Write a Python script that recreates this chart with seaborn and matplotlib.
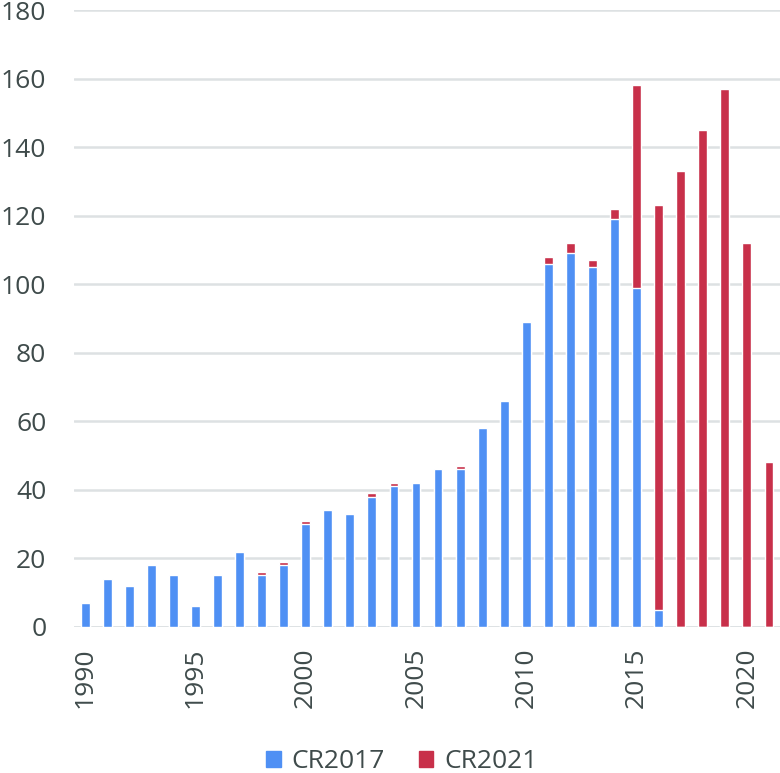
import numpy as np
import pandas as pd
import matplotlib.pyplot as plt
import seaborn as sns
from matplotlib.patches import Patch

# Data
years = list(range(1990, 2022))
cr2017 = [7, 14, 12, 18, 15, 6, 15, 22, 15, 18,
          30, 34, 33, 38, 41, 42, 46, 46, 58, 66,
          89, 106, 109, 105, 119, 99, 5, 0, 0, 0,
          0, 0]
cr2021_added = [0, 0, 0, 0, 0, 0, 0, 0, 1, 1,
                1, 0, 0, 1, 1, 0, 0, 1, 0, 0,
                0, 2, 3, 2, 3, 59, 118, 133, 145, 157,
                112, 48]

BLUE = '#4F90F4'
RED = '#C8304A'
TEXT = '#3F4B4B'
GRID = '#DDE1E3'

df = pd.DataFrame({'year': years, 'CR2017': cr2017, 'CR2021': cr2021_added})
df['total'] = df['CR2017'] + df['CR2021']

sns.set_style('white')
plt.rcParams['font.family'] = ['Open Sans', 'DejaVu Sans']

fig = plt.figure(figsize=(7.8, 7.73), dpi=100)
ax = fig.add_axes([0.095, 0.189, 0.905, 0.798])

# stacked: total in red, CR2017 share in blue on top of it
sns.barplot(data=df, x='year', y='total', color=RED, width=0.4,
            saturation=1, ax=ax, zorder=3)
sns.barplot(data=df, x='year', y='CR2017', color=BLUE, width=0.4,
            saturation=1, ax=ax, zorder=4)

ax.set_ylim(0, 180)
ax.set_xlim(-0.5, len(years) - 0.5)
ax.set_yticks(range(0, 181, 20))
ax.yaxis.grid(True, color=GRID, linewidth=1.8, zorder=0)
ax.set_axisbelow(True)

tick_pos = [i for i, y in enumerate(years) if y % 5 == 0]
ax.set_xticks(tick_pos)
ax.set_xticklabels([str(years[i]) for i in tick_pos], rotation=90)

for s in ax.spines.values():
    s.set_visible(False)
ax.axhline(0, color=GRID, linewidth=1.8, zorder=2)

ax.tick_params(axis='both', length=0, labelsize=19, labelcolor=TEXT)
ax.tick_params(axis='y', pad=20)
ax.tick_params(axis='x', pad=15)
ax.set_xlabel('')
ax.set_ylabel('')

handles = [Patch(color=BLUE, label='CR2017'), Patch(color=RED, label='CR2021')]
fig.legend(handles=handles, loc='lower center', bbox_to_anchor=(0.515, -0.032),
           ncol=2, frameon=False, fontsize=19, labelcolor=TEXT,
           handlelength=0.55, handleheight=0.55, handletextpad=0.4,
           columnspacing=1.3)

fig.savefig('out.png', dpi=100)
